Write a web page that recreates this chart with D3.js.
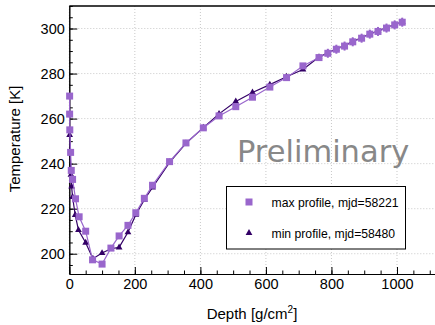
<!DOCTYPE html>
<html>
<head>
<meta charset="utf-8">
<script src="https://cdn.jsdelivr.net/npm/d3@7"></script>
<style>
  body { margin: 0; background: #fff; }
  svg { display: block; }
  text { font-family: "Liberation Sans", Arial, sans-serif; }
  text.wm { font-family: "DejaVu Sans", sans-serif; }
</style>
</head>
<body>
<script>
// temperature profiles vs atmospheric depth
let maxDepth = [1, 1, 1.5, 4, 6, 10, 19, 30, 50, 71, 100, 127, 152, 179, 203, 229, 254, 306, 356, 409, 457, 508, 559, 612, 663, 713, 762, 789, 815, 840, 865, 892, 917, 942, 968, 993, 1016];
let maxTemp = [270, 262, 255, 245, 237, 233, 224.4, 216.4, 210, 197.3, 195.4, 202.5, 207.9, 212.6, 218.2, 224.6, 230.4, 240.9, 249.2, 255.9, 261.2, 265.3, 269.5, 274, 278.2, 283.4, 287.1, 289, 290.8, 292.2, 294.1, 295.7, 297.5, 298.7, 300.2, 301.6, 302.8];
let maxErr = [0, 0, 0, 0, 0, 0, 0, 0, 0, 0, 0, 0, 0, 0, 0, 0, 0, 0, 0, 0, 0, 0, 0, 0, 0, 0, 0, 2, 2, 2, 2, 2, 2, 2, 2, 2, 2];

let minDepth = [1, 5, 7, 10, 18, 28, 50, 72, 100, 127, 152, 179, 203, 229, 254, 306, 356, 409, 457, 508, 559, 612, 663, 713, 762, 789, 815, 840, 865, 892, 917, 942, 968, 993, 1016];
let minTemp = [252.7, 235, 229.8, 225.2, 217.2, 210.5, 204.9, 197.8, 200.3, 202.2, 202.8, 209.5, 217.3, 224, 229.4, 240.6, 249, 256, 262.1, 267.6, 271.6, 275.1, 278.6, 281.8, 287.3, 289.2, 291, 292.4, 294.3, 295.9, 297.7, 298.9, 300.4, 301.8, 303];

let xMajor = [0, 200, 400, 600, 800, 1000];
let yMajor = [200, 220, 240, 260, 280, 300];
let legendLabels = ["max profile, mjd=58221", "min profile, mjd=58480"];

let w = 435, h = 325;
let margin = {top: 6, right: 0, bottom: 51, left: 69.3};
let width = w - margin.left - margin.right, height = h - margin.top - margin.bottom;

let colMax = "#9966cc", colMin = "#330066";

let svg = d3.select("body").append("svg").attr("width", w).attr("height", h);
let g = svg.append("g").attr("transform", "translate(" + margin.left + "," + margin.top + ")");

let xScale = d3.scaleLinear().domain([0, 1116]).range([0, width]);
let yScale = d3.scaleLinear().domain([191, 310]).range([height, 0]);

// dotted grid
g.selectAll(".gx").data(xMajor).enter().append("line")
  .attr("x1", d => xScale(d)).attr("x2", d => xScale(d))
  .attr("y1", 0).attr("y2", height)
  .attr("stroke", "#c8c8c8").attr("stroke-dasharray", "1,2");
g.selectAll(".gy").data(yMajor).enter().append("line")
  .attr("x1", 0).attr("x2", width)
  .attr("y1", d => yScale(d)).attr("y2", d => yScale(d))
  .attr("stroke", "#c8c8c8").attr("stroke-dasharray", "1,2");

// top frame
g.append("line").attr("x1", 0).attr("x2", width).attr("y1", 0).attr("y2", 0)
  .attr("stroke", "#000").attr("stroke-width", 1.3);

// minor ticks
g.append("g").attr("transform", "translate(0," + height + ")")
  .call(d3.axisBottom(xScale).tickValues(d3.range(0, 1101, 50)).tickSizeInner(-3.5).tickSizeOuter(0).tickFormat(""));
g.append("g")
  .call(d3.axisLeft(yScale).tickValues(d3.range(195, 311, 5)).tickSizeInner(-3.5).tickSizeOuter(0).tickFormat(""));

// major ticks + labels
let xAxis = g.append("g").attr("transform", "translate(0," + height + ")")
  .call(d3.axisBottom(xScale).tickValues(xMajor).tickSizeInner(-7).tickSizeOuter(0).tickPadding(4.5).tickFormat(d3.format("d")));
let yAxis = g.append("g")
  .call(d3.axisLeft(yScale).tickValues(yMajor).tickSizeInner(-8).tickSizeOuter(0).tickPadding(4.5));
[xAxis, yAxis].forEach(a => {
  a.selectAll("text").attr("font-size", "14.5px").attr("fill", "#000");
  a.selectAll("line, path").attr("stroke", "#000");
});

// axis titles
let xt = svg.append("text").attr("x", 252).attr("y", 319).attr("text-anchor", "middle")
  .attr("font-size", "15px").attr("fill", "#000");
xt.append("tspan").text("Depth [g/cm");
xt.append("tspan").text("2").attr("font-size", "10px").attr("dy", "-6");
xt.append("tspan").text("]").attr("dy", "6");

svg.append("text").attr("transform", "translate(20,139) rotate(-90)")
  .attr("text-anchor", "middle").attr("font-size", "15px").attr("fill", "#000")
  .text("Temperature [K]");

// Preliminary watermark
svg.append("text").attr("class", "wm").attr("x", 237).attr("y", 162)
  .attr("font-size", "30.5px").attr("fill", "#888").text("Preliminary");

let line = d3.line().x(d => xScale(d[0])).y(d => yScale(d[1]));
let minPts = minDepth.map((d, i) => [d, minTemp[i]]);
let maxPts = maxDepth.map((d, i) => [d, maxTemp[i], maxErr[i]]);

// min profile
g.append("path").datum(minPts).attr("d", line)
  .attr("fill", "none").attr("stroke", colMin).attr("stroke-width", 1.2);
let tri = d3.symbol().type(d3.symbolTriangle).size(20);
g.selectAll(".tri").data(minPts).enter().append("path")
  .attr("d", tri)
  .attr("transform", d => "translate(" + xScale(d[0]) + "," + yScale(d[1]) + ")")
  .attr("fill", colMin);

// max profile
g.append("path").datum(maxPts).attr("d", line)
  .attr("fill", "none").attr("stroke", colMax).attr("stroke-width", 1.2);
g.selectAll(".err").data(maxPts.filter(d => d[2] > 0)).enter().append("line")
  .attr("x1", d => xScale(d[0])).attr("x2", d => xScale(d[0]))
  .attr("y1", d => yScale(d[1] - d[2])).attr("y2", d => yScale(d[1] + d[2]))
  .attr("stroke", colMax).attr("stroke-width", 2);
g.selectAll(".sq").data(maxPts).enter().append("rect")
  .attr("x", d => xScale(d[0]) - 3.5).attr("y", d => yScale(d[1]) - 3.5)
  .attr("width", 7).attr("height", 7).attr("fill", colMax);

// legend
let lg = svg.append("g");
lg.append("rect").attr("x", 226.5).attr("y", 186.5).attr("width", 179).attr("height", 62.5)
  .attr("fill", "#fff").attr("stroke", "#000").attr("stroke-width", 1);
lg.append("rect").attr("x", 245.5).attr("y", 198.5).attr("width", 7).attr("height", 7).attr("fill", colMax);
lg.append("path").attr("d", tri).attr("transform", "translate(249,233)").attr("fill", colMin);
lg.selectAll(".lt").data(legendLabels).enter().append("text")
  .attr("x", 271.5).attr("y", (d, i) => 206.5 + i * 31)
  .attr("font-size", "12.2px").attr("fill", "#000").text(d => d);
</script>
</body>
</html>
